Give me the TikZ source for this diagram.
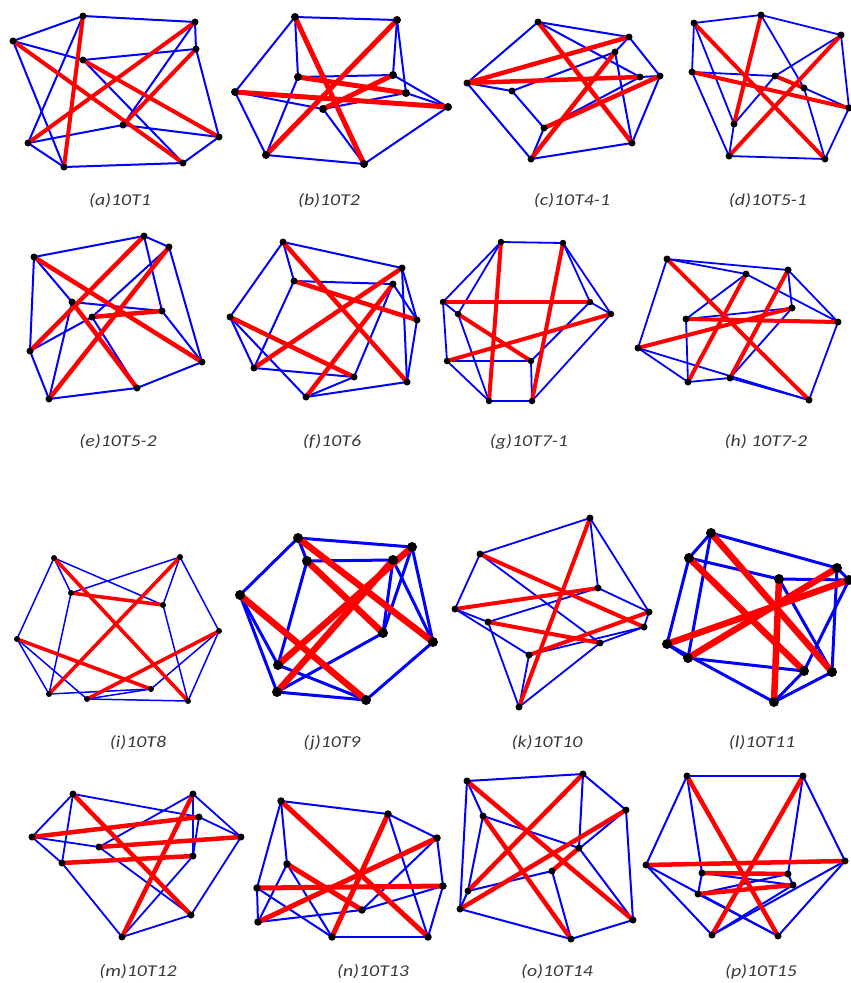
\documentclass[tikz,border=0pt]{standalone}
\usepackage{fontspec}
\setmainfont{Carlito}
\pgfdeclarelayer{bg}
\pgfsetlayers{bg,main}
\newcommand{\lbl}[1]{\scalebox{1.2}[1]{#1}}
\begin{document}
\begin{tikzpicture}[x=1pt, y=-1pt,
    vtx/.style={circle, fill=black, inner sep=0pt, minimum size=7pt},
    bl/.style={blue, line width=2pt},
    rd/.style={red, line width=4.5pt},
    captxt/.style={font=\fontsize{16.5}{19}\selectfont\itshape, text=black!78, inner sep=0pt}]
  \useasboundingbox (0,0) rectangle (851,983);
  % (a) 10T1
  \begin{scope}[rd/.append style={line width=4pt}]
    \foreach \n/\x/\y in {1/13/41, 2/83/16, 3/195/22, 4/196/49, 5/83/60, 6/123/125, 7/28/143, 8/64/167, 9/183/163, 10/219/137}
      \node[vtx] (a\n) at (\x,\y) {};
    \begin{pgfonlayer}{bg}
      \foreach \u/\v in {1/2, 2/3, 1/5, 1/8, 2/7, 5/4, 5/9, 3/4, 3/6, 4/10, 6/7, 6/10, 7/8, 8/9, 9/10}
        \draw[bl] (a\u.center) -- (a\v.center);
      \foreach \u/\v in {1/9, 2/8, 3/7, 4/6, 5/10}
        \draw[rd] (a\u.center) -- (a\v.center);
    \end{pgfonlayer}
    \node[captxt] (capa) at (120,201) {\lbl{(a)10T1}};
  \end{scope}
  % (b) 10T2
  \begin{scope}[vtx/.append style={minimum size=8pt}, rd/.append style={line width=5pt}]
    \foreach \n/\x/\y in {1/295/17, 2/397/20, 3/298/77, 4/393/75, 5/235/92, 6/406/93, 7/323/109, 8/448/107, 9/266/155, 10/364/164}
      \node[vtx] (b\n) at (\x,\y) {};
    \begin{pgfonlayer}{bg}
      \foreach \u/\v in {1/2, 1/3, 1/5, 2/4, 2/6, 3/4, 3/9, 4/8, 5/7, 5/9, 6/7, 6/8, 7/10, 8/10, 9/10}
        \draw[bl] (b\u.center) -- (b\v.center);
      \foreach \u/\v in {1/10, 2/9, 3/6, 4/7, 5/8}
        \draw[rd] (b\u.center) -- (b\v.center);
    \end{pgfonlayer}
    \node[captxt] (capb) at (329,201) {\lbl{(b)10T2}};
  \end{scope}
  % (c) 10T4-1
  \begin{scope}
    \foreach \n/\x/\y in {1/538/22, 2/629/37, 3/615/52, 4/467/83, 5/512/91, 6/640/77, 7/660/76, 8/544/128, 9/632/143, 10/531/159}
      \node[vtx] (c\n) at (\x,\y) {};
    \begin{pgfonlayer}{bg}
      \foreach \u/\v in {1/2, 1/4, 1/6, 2/7, 2/3, 4/5, 4/10, 3/9, 3/5, 5/8, 8/10, 8/6, 7/9, 7/6, 10/9}
        \draw[bl] (c\u.center) -- (c\v.center);
      \foreach \u/\v in {1/9, 2/4, 4/6, 3/10, 8/7}
        \draw[rd] (c\u.center) -- (c\v.center);
    \end{pgfonlayer}
    \node[captxt] (capc) at (572,201) {\lbl{(c)10T4-1}};
  \end{scope}
  % (d) 10T5-1
  \begin{scope}[bl/.append style={line width=1.8pt}, rd/.append style={line width=4pt}]
    \foreach \n/\x/\y in {1/694/23, 2/761/15, 3/841/35, 4/692/72, 5/775/76, 6/804/88, 7/849/108, 8/734/124, 9/729/156, 10/825/159}
      \node[vtx] (d\n) at (\x,\y) {};
    \begin{pgfonlayer}{bg}
      \foreach \u/\v in {1/2, 2/3, 1/4, 1/8, 2/6, 3/5, 3/7, 4/5, 4/9, 5/8, 6/10, 6/7, 8/9, 9/10, 7/10}
        \draw[bl] (d\u.center) -- (d\v.center);
      \foreach \u/\v in {1/10, 2/8, 3/9, 4/7, 5/6}
        \draw[rd] (d\u.center) -- (d\v.center);
    \end{pgfonlayer}
    \node[captxt] (capd) at (768,201) {\lbl{(d)10T5-1}};
  \end{scope}
  % (e) 10T5-2
  \begin{scope}
    \foreach \n/\x/\y in {1/34/257, 2/144/236, 3/169/247, 4/72/302, 5/162/311, 6/92/317, 7/30/351, 8/202/362, 9/137/388, 10/49/399}
      \node[vtx] (e\n) at (\x,\y) {};
    \begin{pgfonlayer}{bg}
      \foreach \u/\v in {1/2, 1/7, 1/4, 2/3, 2/5, 3/8, 3/6, 4/5, 4/10, 6/7, 6/9, 5/8, 7/10, 10/9, 9/8}
        \draw[bl] (e\u.center) -- (e\v.center);
      \foreach \u/\v in {1/8, 2/7, 3/10, 4/9, 6/5}
        \draw[rd] (e\u.center) -- (e\v.center);
    \end{pgfonlayer}
    \node[captxt] (cape) at (118,442) {\lbl{(e)10T5-2}};
  \end{scope}
  % (f) 10T6
  \begin{scope}
    \foreach \n/\x/\y in {1/283/242, 2/402/268, 3/294/281, 4/393/284, 5/230/317, 6/417/320, 7/254/368, 8/354/377, 9/306/397, 10/407/382}
      \node[vtx] (f\n) at (\x,\y) {};
    \begin{pgfonlayer}{bg}
      \foreach \u/\v in {1/2, 1/5, 1/3, 2/6, 2/10, 3/4, 3/7, 4/6, 4/8, 5/7, 5/9, 7/8, 9/8, 9/10, 6/10}
        \draw[bl] (f\u.center) -- (f\v.center);
      \foreach \u/\v in {1/10, 2/7, 3/6, 4/9, 5/8}
        \draw[rd] (f\u.center) -- (f\v.center);
    \end{pgfonlayer}
    \node[captxt] (capf) at (332,442) {\lbl{(f)10T6}};
  \end{scope}
  % (g) 10T7-1
  \begin{scope}[vtx/.append style={minimum size=6.5pt}, bl/.append style={line width=1.8pt}, rd/.append style={line width=4pt}]
    \foreach \n/\x/\y in {1/501/242, 2/563/243, 3/443/302, 4/590/302, 5/458/314, 6/611/314, 7/447/361, 8/531/361, 9/489/401, 10/532/401}
      \node[vtx] (g\n) at (\x,\y) {};
    \begin{pgfonlayer}{bg}
      \foreach \u/\v in {1/2, 1/3, 1/5, 2/4, 2/6, 3/5, 3/7, 5/9, 4/6, 6/10, 4/8, 7/8, 7/9, 8/10, 9/10}
        \draw[bl] (g\u.center) -- (g\v.center);
      \foreach \u/\v in {1/9, 2/10, 3/4, 5/8, 6/7}
        \draw[rd] (g\u.center) -- (g\v.center);
    \end{pgfonlayer}
    \node[captxt] (capg) at (529,442) {\lbl{(g)10T7-1}};
  \end{scope}
  % (h) 10T7-2
  \begin{scope}[bl/.append style={line width=1.8pt}, rd/.append style={line width=4pt}]
    \foreach \n/\x/\y in {1/667/259, 2/746/274, 3/788/270, 4/686/319, 5/792/308, 6/838/322, 7/638/348, 8/688/382, 9/730/378, 10/809/400}
      \node[vtx] (h\n) at (\x,\y) {};
    \begin{pgfonlayer}{bg}
      \foreach \u/\v in {1/3, 1/2, 1/7, 2/4, 2/6, 3/5, 3/6, 4/5, 4/8, 5/9, 6/10, 7/8, 7/10, 8/9, 9/10}
        \draw[bl] (h\u.center) -- (h\v.center);
      \foreach \u/\v in {1/10, 2/8, 3/9, 4/6, 7/5}
        \draw[rd] (h\u.center) -- (h\v.center);
    \end{pgfonlayer}
    \node[captxt] (caph) at (766,442) {\lbl{(h) 10T7-2}};
  \end{scope}
  % (i) 10T8
  \begin{scope}[vtx/.append style={minimum size=6pt}, bl/.append style={line width=1.5pt}, rd/.append style={line width=3.6pt}]
    \foreach \n/\x/\y in {1/54/558, 2/180/557, 3/71/593, 4/163/605, 5/17/639, 6/219/631, 7/49/694, 8/87/699, 9/151/689, 10/188/701}
      \node[vtx] (i\n) at (\x,\y) {};
    \begin{pgfonlayer}{bg}
      \foreach \u/\v in {1/5, 1/3, 1/4, 2/3, 2/6, 2/4, 3/7, 5/7, 5/8, 6/10, 6/9, 7/9, 8/9, 8/10, 4/10}
        \draw[bl] (i\u.center) -- (i\v.center);
      \foreach \u/\v in {1/10, 2/7, 3/4, 5/9, 6/8}
        \draw[rd] (i\u.center) -- (i\v.center);
    \end{pgfonlayer}
    \node[captxt] (capi) at (138,743) {\lbl{(i)10T8}};
  \end{scope}
  % (j) 10T9
  \begin{scope}[vtx/.append style={minimum size=10pt}, bl/.append style={line width=3pt}, rd/.append style={line width=6.5pt}]
    \foreach \n/\x/\y in {1/298/538, 2/412/547, 3/307/561, 4/393/560, 5/240/595, 6/383/633, 7/433/642, 8/278/665, 9/277/692, 10/366/700}
      \node[vtx] (j\n) at (\x,\y) {};
    \begin{pgfonlayer}{bg}
      \foreach \u/\v in {1/2, 1/5, 1/3, 3/4, 3/8, 2/7, 2/6, 4/7, 4/6, 5/8, 5/9, 6/9, 7/10, 8/10, 9/10}
        \draw[bl] (j\u.center) -- (j\v.center);
      \foreach \u/\v in {1/7, 3/6, 2/8, 4/9, 5/10}
        \draw[rd] (j\u.center) -- (j\v.center);
    \end{pgfonlayer}
    \node[captxt] (capj) at (332,743) {\lbl{(j)10T9}};
  \end{scope}
  % (k) 10T10
  \begin{scope}[bl/.append style={line width=1.8pt}, rd/.append style={line width=4pt}]
    \foreach \n/\x/\y in {1/590/518, 2/480/554, 3/598/588, 4/455/609, 5/649/612, 6/488/622, 7/644/627, 8/600/643, 9/529/655, 10/519/707}
      \node[vtx] (k\n) at (\x,\y) {};
    \begin{pgfonlayer}{bg}
      \foreach \u/\v in {1/2, 1/3, 1/5, 2/4, 2/8, 3/5, 3/6, 4/6, 4/9, 6/10, 9/10, 8/10, 5/7, 7/8, 7/9}
        \draw[bl] (k\u.center) -- (k\v.center);
      \foreach \u/\v in {1/10, 2/7, 4/3, 6/8, 9/5}
        \draw[rd] (k\u.center) -- (k\v.center);
    \end{pgfonlayer}
    \node[captxt] (capk) at (547,743) {\lbl{(k)10T10}};
  \end{scope}
  % (l) 10T11
  \begin{scope}[vtx/.append style={minimum size=10pt}, bl/.append style={line width=3pt}, rd/.append style={line width=6.5pt}]
    \foreach \n/\x/\y in {1/711/533, 2/689/558, 3/837/568, 4/779/579, 5/849/580, 6/667/644, 7/688/658, 8/804/671, 9/832/672, 10/774/702}
      \node[vtx] (l\n) at (\x,\y) {};
    \begin{pgfonlayer}{bg}
      \foreach \u/\v in {1/2, 1/3, 1/7, 2/4, 2/6, 3/5, 3/9, 4/5, 4/9, 5/8, 6/7, 6/10, 7/8, 8/10, 9/10}
        \draw[bl] (l\u.center) -- (l\v.center);
      \foreach \u/\v in {1/9, 2/8, 3/7, 4/10, 5/6}
        \draw[rd] (l\u.center) -- (l\v.center);
    \end{pgfonlayer}
    \node[captxt] (capl) at (762,743) {\lbl{(l)10T11}};
  \end{scope}
  % (m) 10T12
  \begin{scope}[bl/.append style={line width=1.8pt}]
    \foreach \n/\x/\y in {1/73/794, 2/193/794, 3/199/817, 4/32/837, 5/241/837, 6/99/847, 7/193/856, 8/62/863, 9/191/915, 10/122/937}
      \node[vtx] (m\n) at (\x,\y) {};
    \begin{pgfonlayer}{bg}
      \foreach \u/\v in {1/4, 1/8, 1/3, 2/6, 2/5, 2/7, 3/7, 3/5, 4/6, 4/8, 5/9, 6/9, 7/10, 9/10, 8/10}
        \draw[bl] (m\u.center) -- (m\v.center);
      \foreach \u/\v in {1/9, 2/10, 3/4, 5/6, 7/8}
        \draw[rd] (m\u.center) -- (m\v.center);
    \end{pgfonlayer}
    \node[captxt] (capm) at (138,972) {\lbl{(m)10T12}};
  \end{scope}
  % (n) 10T13
  \begin{scope}[vtx/.append style={minimum size=7.5pt}, rd/.append style={line width=5pt}]
    \foreach \n/\x/\y in {1/281/801, 2/388/814, 3/437/838, 4/287/864, 5/257/888, 6/443/886, 7/362/910, 8/258/922, 9/332/937, 10/428/937}
      \node[vtx] (n\n) at (\x,\y) {};
    \begin{pgfonlayer}{bg}
      \foreach \u/\v in {1/2, 1/5, 1/4, 2/3, 2/10, 3/7, 3/6, 4/8, 4/9, 5/8, 5/9, 6/10, 6/7, 7/8, 9/10}
        \draw[bl] (n\u.center) -- (n\v.center);
      \foreach \u/\v in {1/10, 2/9, 3/8, 4/7, 5/6}
        \draw[rd] (n\u.center) -- (n\v.center);
    \end{pgfonlayer}
    \node[captxt] (capn) at (373,972) {\lbl{(n)10T13}};
  \end{scope}
  % (o) 10T14
  \begin{scope}
    \foreach \n/\x/\y in {1/467/781, 2/583/774, 3/483/816, 4/626/810, 5/579/848, 6/552/871, 7/468/891, 8/460/909, 9/633/920, 10/571/939}
      \node[vtx] (o\n) at (\x,\y) {};
    \begin{pgfonlayer}{bg}
      \foreach \u/\v in {1/2, 1/8, 1/3, 2/4, 2/5, 3/5, 3/7, 4/9, 4/6, 5/9, 6/7, 6/10, 7/8, 8/10, 10/9}
        \draw[bl] (o\u.center) -- (o\v.center);
      \foreach \u/\v in {1/9, 2/7, 3/10, 4/8, 5/6}
        \draw[rd] (o\u.center) -- (o\v.center);
    \end{pgfonlayer}
    \node[captxt] (capo) at (557,972) {\lbl{(o)10T14}};
  \end{scope}
  % (p) 10T15
  \begin{scope}
    \foreach \n/\x/\y in {1/687/776, 2/803/776, 3/646/865, 4/845/861, 5/702/873, 6/788/874, 7/698/894, 8/793/885, 9/712/935, 10/778/936}
      \node[vtx] (p\n) at (\x,\y) {};
    \begin{pgfonlayer}{bg}
      \foreach \u/\v in {1/2, 1/3, 1/5, 2/4, 2/6, 3/9, 3/10, 4/9, 4/10, 5/7, 5/8, 6/7, 6/8, 7/10, 8/9}
        \draw[bl] (p\u.center) -- (p\v.center);
      \foreach \u/\v in {1/10, 2/9, 3/4, 5/6, 7/8}
        \draw[rd] (p\u.center) -- (p\v.center);
    \end{pgfonlayer}
    \node[captxt] (capp) at (761,972) {\lbl{(p)10T15}};
  \end{scope}
\end{tikzpicture}
\end{document}
